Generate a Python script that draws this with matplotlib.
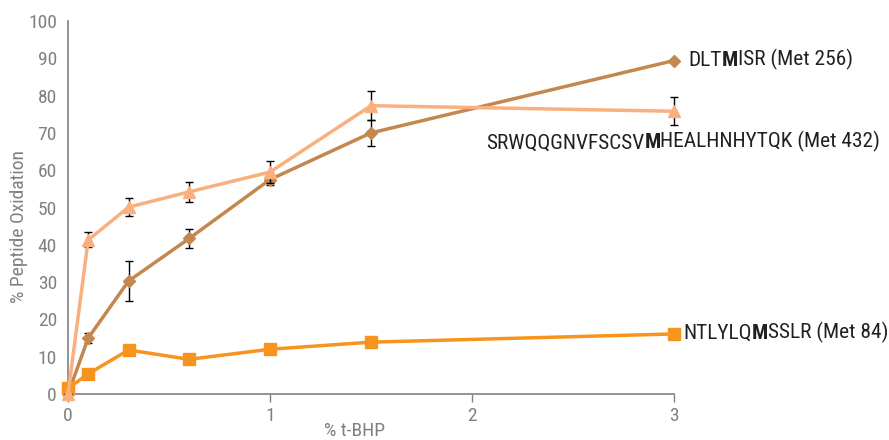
import matplotlib
matplotlib.use("Agg")
import matplotlib.pyplot as plt
from matplotlib import font_manager

names = {f.name for f in font_manager.fontManager.ttflist}
FONT = "DejaVu Sans"
for cand in ["Roboto Condensed", "Archivo Narrow", "Barlow Semi Condensed", "Liberation Sans Narrow"]:
    if cand in names:
        FONT = cand
        break
plt.rcParams["font.family"] = [FONT, "DejaVu Sans"]

x_vals = [0, 0.1, 0.3, 0.6, 1, 1.5, 3]

met256 = [0, 15, 30.3, 41.7, 57.5, 70.0, 89.4]
met256_err = [0, 1.3, 5.4, 2.6, 1.5, 3.5, 0]

met432 = [0, 41.3, 50.1, 54.2, 59.5, 77.3, 75.8]
met432_err = [0, 2.0, 2.4, 2.7, 3.0, 3.9, 3.7]

met84 = [1.5, 5.4, 11.8, 9.3, 12.0, 13.9, 16.1]

xticks = [0, 1, 2, 3]
yticks = list(range(0, 101, 10))

label256 = ("DLT", "M", "ISR (Met 256)")
label432 = ("SRWQQGNVFSCSV", "M", "HEALHNHYTQK (Met 432)")
label84 = ("NTLYLQ", "M", "SSLR (Met 84)")

c_peach = "#F9B07E"
c_brown = "#C4874F"
c_orange = "#F7941D"
gray = "#808080"

fig = plt.figure(figsize=(8.89, 4.40), dpi=100)
ax = fig.add_axes([68/889, 46/440, (674-68)/889, (394-21)/440])

ax.errorbar(x_vals, met256, yerr=met256_err, color=c_brown, lw=2.5, marker="D",
            ms=6, ecolor="black", elinewidth=1, capsize=3, capthick=1, zorder=3, clip_on=False)
ax.plot(x_vals, met84, color=c_orange, lw=2.5, marker="s", ms=8, zorder=4, clip_on=False)
ax.errorbar(x_vals, met432, yerr=met432_err, color=c_peach, lw=2.5, marker="^",
            ms=9, ecolor="black", elinewidth=1, capsize=3, capthick=1, zorder=5, clip_on=False)

ax.set_xlim(0, 3)
ax.set_ylim(0, 100)
ax.set_xticks(xticks)
ax.set_yticks(yticks)
ax.tick_params(axis="x", colors=gray, labelsize=14, length=6, width=1, direction="out", pad=3)
ax.tick_params(axis="y", colors=gray, labelsize=14, length=0, pad=8)
for s in ["top", "right"]:
    ax.spines[s].set_visible(False)
for s in ["left", "bottom"]:
    ax.spines[s].set_color(gray)
    ax.spines[s].set_linewidth(1.2)

fig.text(355/889, 1 - 431/440, "% t-BHP", color=gray, fontsize=14, ha="center", va="center")
fig.text(19/889, 1 - 226/440, "% Peptide Oxidation", rotation=90, color=gray,
         fontsize=14, ha="center", va="center")

FS = 15.4


def seg_label(parts, x, y):
    t = fig.text(x, y, parts[0], fontsize=FS, color="#231F20", ha="left", va="center")
    t2 = ax.annotate(parts[1], xy=(1, 0), xycoords=t, fontsize=FS, fontweight="bold",
                     color="#231F20", ha="left", va="bottom")
    ax.annotate(parts[2], xy=(1, 0), xycoords=t2, fontsize=FS, color="#231F20",
                ha="left", va="bottom")


seg_label(label256, 688/889, 1 - 61/440)
seg_label(label432, 486/889, 1 - 143/440)
seg_label(label84, 683/889, 1 - 333/440)

fig.savefig("out.png", dpi=100)
